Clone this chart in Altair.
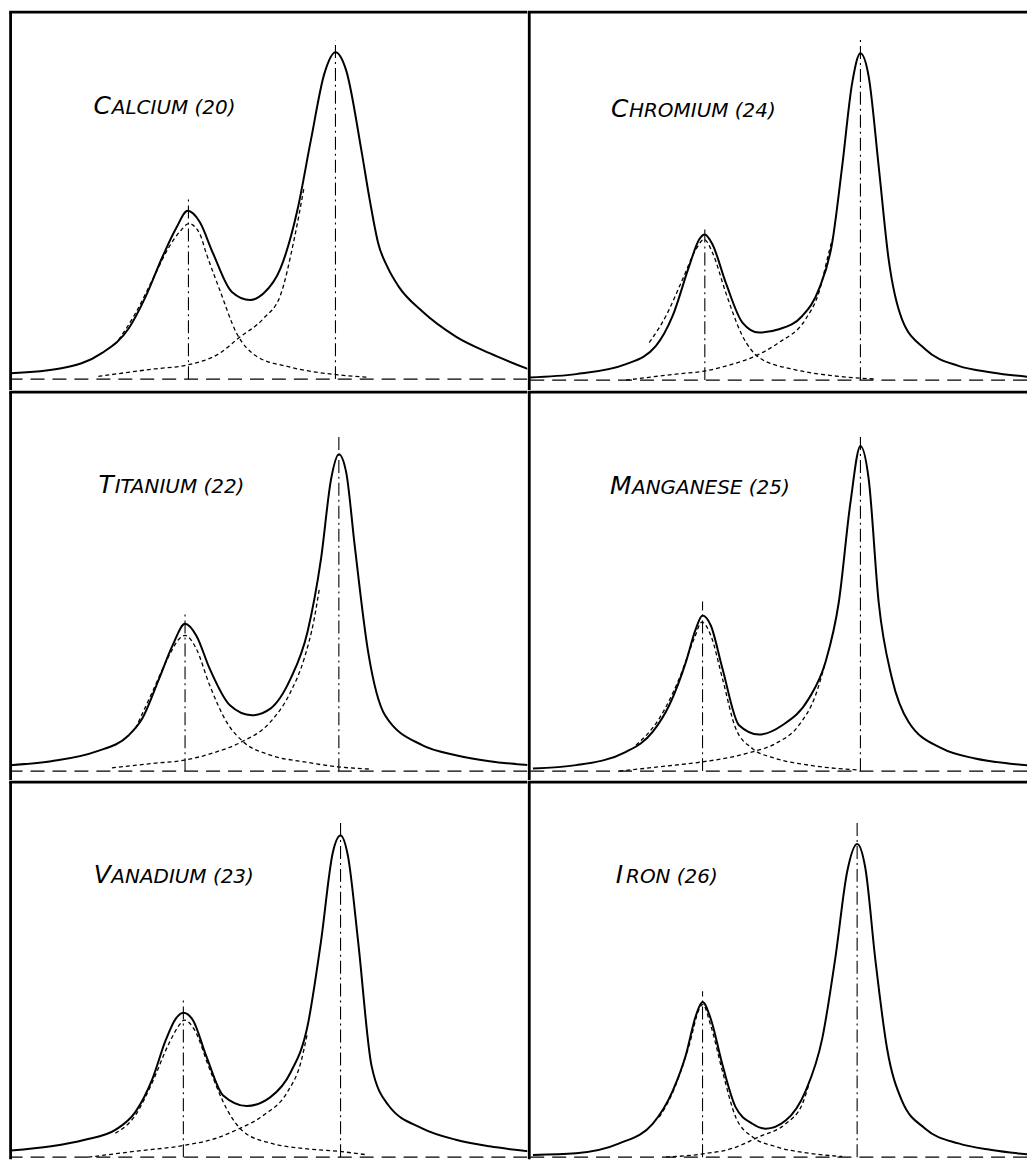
import altair as alt
import pandas as pd

# ---------------- data (x: position across panel, y: height above baseline) -------------
CA_TOTAL_X = [0.1, 50.9, 91.4, 118.5, 135.4, 152.3, 165.8, 177.6, 189.5, 203.0, 221.6, 240.2, 253.7, 270.6, 287.5, 301.0, 314.5, 325.7, 336.5, 351.7, 360.0, 368.6, 378.0, 388.9, 412.6, 446.4, 480.2, 519.1]
CA_TOTAL_Y = [6, 11, 26, 51, 82.7, 122.7, 151, 168.7, 157.7, 126, 87.7, 79.3, 86, 111, 169.3, 239.3, 306, 327.7, 309.3, 229.3, 180, 136, 112, 93, 68, 42.7, 26, 10]
CA_P1_X = [108.3, 125.2, 142.1, 159.0, 170.9, 178.6, 189.5, 196.2, 209.7, 226.6, 246.9, 277.4, 328.1, 356.8]
CA_P1_Y = [39.3, 66, 99.3, 132.7, 149.3, 156, 146, 126, 89.3, 46, 22.7, 12.7, 4.3, 2]
CA_P2_X = [88.0, 142.1, 177.6, 209.7, 228.3, 253.7, 270.6, 284.1, 294.3]
CA_P2_Y = [2.7, 10, 14.3, 26, 41, 61, 84.3, 139.3, 192.7]
CA_LINES_X = [178.3, 325.7]
CA_LINES_TOP = [180, 339.3]

CR_TOTAL_X = [0.3, 47, 97, 127, 143.7, 160.3, 170.3, 176, 183.7, 197, 213.7, 230.3, 250.3, 273.7, 290.3, 303.7, 313.7, 323.7, 332, 340.3, 350.3, 360.3, 373.7, 397, 430.3, 463.7, 505.3]
CR_TOTAL_Y = [2.7, 6, 16, 34.3, 64.3, 114.3, 141, 146, 136, 97.7, 57.7, 47.7, 51, 64.3, 91, 137.7, 214.3, 297.7, 327.7, 304.3, 214.3, 121, 61, 31, 14.3, 7.7, 2.7]
CR_P1_X = [120.3, 137, 153.7, 167, 175.3, 183.7, 197, 213.7, 230.3, 263.7, 297, 347]
CR_P1_Y = [37.7, 64.3, 101, 131, 141, 127.7, 87.7, 44.3, 22.7, 11, 5.3, 1]
CR_P2_X = [97, 147, 177, 203.7, 227, 250.3, 277, 290.3, 300.3, 303.7]
CR_P2_Y = [0, 6, 9.3, 16, 24.3, 37.7, 61, 87.7, 127.7, 141]
CR_LINES_X = [176, 332]
CR_LINES_TOP = [152.7, 344.3]

TI_TOTAL_X = [0.1, 40.7, 84.7, 118.5, 132, 148.9, 162.4, 174.9, 186.1, 199.6, 219.9, 241.9, 260.5, 280.7, 297.6, 311.2, 321.3, 329.1, 336.5, 345, 358.5, 375.4, 412.6, 446.4, 480.2, 519.1]
TI_TOTAL_Y = [6, 10, 19.3, 36, 52.7, 92.7, 126, 147.7, 136, 102.7, 66, 56, 62.7, 92.7, 139.3, 212.7, 292.7, 317.7, 299.3, 226, 119.3, 56, 26, 16, 10, 6]
TI_P1_X = [125.2, 142.1, 159.0, 169.2, 174.9, 186.1, 199.6, 216.5, 233.4, 260.5, 294.3, 328.1, 361.9]
TI_P1_Y = [42.7, 79.3, 116, 132.7, 136, 122.7, 86, 49.3, 29.3, 16, 9.3, 4.3, 2]
TI_P2_X = [101.6, 142.1, 174.2, 206.4, 231.7, 260.5, 280.7, 294.3, 304.4, 309.5]
TI_P2_Y = [3.3, 7.7, 11, 19.3, 29.3, 49.3, 79.3, 112.7, 152.7, 182.7]
TI_LINES_X = [174.9, 329.1]
TI_LINES_TOP = [159.3, 336]

MN_TOTAL_X = [3.7, 47, 97, 123.7, 140.3, 157, 167, 173.7, 182, 193.7, 210.3, 230.3, 253.7, 280.3, 297, 310.3, 322, 332, 340.3, 350.3, 363.7, 380.3, 413.7, 447, 480.3, 505.3]
MN_TOTAL_Y = [2.7, 6, 19.3, 39.3, 66, 109.3, 142.7, 156, 146, 102.7, 46, 36.7, 46, 72.7, 109.3, 169.3, 269.3, 326, 292.7, 169.3, 92.7, 49.3, 22.7, 12.7, 7.7, 5.3]
MN_P1_X = [107, 130.3, 150.3, 165.3, 173, 182, 193.7, 207, 223.7, 247, 280.3, 330.3]
MN_P1_Y = [26, 52.7, 92.7, 132.7, 149.3, 136, 92.7, 42.7, 22.7, 12.7, 6, 1]
MN_P2_X = [90.3, 130.3, 173.7, 203.7, 223.7, 247, 270.3, 287, 297]
MN_P2_Y = [0, 4.3, 9.3, 14.3, 19.3, 27.7, 46, 76, 109.3]
MN_LINES_X = [173.7, 332]
MN_LINES_TOP = [170, 336]

V_TOTAL_X = [0.1, 40.7, 74.5, 105, 125.2, 142.1, 155.7, 165.8, 173.2, 182.7, 196.2, 213.1, 236.8, 260.5, 280.7, 297.6, 311.2, 323, 330.8, 338.2, 348.4, 361.9, 378.8, 412.6, 446.4, 480.2, 519.1]
V_TOTAL_Y = [6.7, 11, 17.7, 27.7, 46, 79.3, 119.3, 141, 146.7, 139.3, 102.7, 62.7, 52, 61, 86, 132.7, 219.3, 309.3, 326.7, 306, 219.3, 92.7, 52.7, 29.3, 17.7, 11, 6]
V_P1_X = [105, 125.2, 142.1, 159, 169.2, 174.2, 184.4, 199.6, 216.5, 233.4, 260.5, 294.3, 328.1, 355.1]
V_P1_Y = [24.3, 42.7, 76, 116, 134.3, 139.3, 129.3, 89.3, 49.3, 26, 14.3, 8.7, 6, 2.7]
V_P2_X = [77.9, 125.2, 174.2, 206.4, 226.6, 253.7, 277.4, 290.9, 297.6]
V_P2_Y = [0, 6, 12, 19.3, 27.7, 42.7, 66, 96, 126]
V_LINES_X = [173.2, 330.8]
V_LINES_TOP = [162.7, 341]

FE_TOTAL_X = [3.7, 47, 90.3, 123.7, 143.7, 157, 167, 173.7, 182, 193.7, 207, 223.7, 237, 257, 277, 293.7, 307, 318.7, 328.7, 337, 347, 358.7, 373.7, 397, 430.3, 463.7, 505.3]
FE_TOTAL_Y = [2.3, 4, 14, 34, 67.3, 104, 144, 158, 140.7, 94, 50.7, 34, 29, 37.3, 67.3, 120.7, 204, 290.7, 319, 294, 200.7, 110.7, 57.3, 29, 14, 7.3, 2.3]
FE_P1_X = [130.3, 143.7, 160.3, 170.3, 173.7, 182, 193.7, 207, 223.7, 247, 280.3, 313.7]
FE_P1_Y = [40.7, 65.7, 114, 150.7, 155.7, 134, 87.3, 40.7, 20.7, 10.7, 4, 0.7]
FE_P2_X = [137, 173.7, 203.7, 230.3, 257, 273.7, 280.3]
FE_P2_Y = [0, 3.3, 9, 20.7, 34, 54, 74]
FE_LINES_X = [173.7, 328.7]
FE_LINES_TOP = [169, 344]

# labels: big initial, rest (small capitals), x of initial's right edge, x of rest, baseline height
LABEL_INITIAL = ["C", "C", "T", "M", "V", "I"]
LABEL_REST = ["ALCIUM (20)", "HROMIUM (24)", "ITANIUM (22)", "ANGANESE (25)", "ANADIUM (23)", "RON (26)"]
LABEL_X1 = [100.5, 99.5, 103.5, 102.5, 100.5, 94]
LABEL_X2 = [101.5, 100, 104.3, 103, 101, 97]
LABEL_Y = [266, 264, 279, 277.7, 279, 279]

FONT = "DejaVu Sans"
HALF_BORDER = 1.4


def panel(idx, tx, ty, p1x, p1y, p2x, p2y, lx, ltop, xdom, ydom, w, h):
    xs = alt.Scale(domain=xdom, nice=False, zero=False)
    ys = alt.Scale(domain=ydom, nice=False, zero=False)
    total = pd.DataFrame({"x": tx, "y": ty})
    c1 = pd.DataFrame({"x": p1x, "y": p1y})
    c2 = pd.DataFrame({"x": p2x, "y": p2y})
    vl = pd.DataFrame({"x": lx, "y0": [0] * len(lx), "y1": ltop})
    base = pd.DataFrame({"y": [0]})
    lab = pd.DataFrame({"a": [LABEL_INITIAL[idx]], "b": [LABEL_REST[idx]],
                        "x1": [LABEL_X1[idx]], "x2": [LABEL_X2[idx]], "y": [LABEL_Y[idx]]})
    one = pd.DataFrame({"k": [0]})

    X = lambda f: alt.X(f, scale=xs, axis=None)
    Y = lambda f: alt.Y(f, scale=ys, axis=None)

    baseline = alt.Chart(base).mark_rule(color="black", strokeWidth=1.3, strokeDash=[14, 8],
                                         clip=True).encode(y=Y("y:Q"))
    vlines = alt.Chart(vl).mark_rule(color="black", strokeWidth=1.1, strokeDash=[13, 4, 2, 4],
                                     clip=True).encode(x=X("x:Q"), y=Y("y0:Q"), y2="y1:Q")
    comp1 = alt.Chart(c1).mark_line(color="black", strokeWidth=1.3, strokeDash=[4, 3],
                                    interpolate="monotone", clip=True).encode(x=X("x:Q"), y=Y("y:Q"))
    comp2 = alt.Chart(c2).mark_line(color="black", strokeWidth=1.3, strokeDash=[4, 3],
                                    interpolate="monotone", clip=True).encode(x=X("x:Q"), y=Y("y:Q"))
    tot = alt.Chart(total).mark_line(color="black", strokeWidth=2.0, interpolate="monotone",
                                     clip=True).encode(x=X("x:Q"), y=Y("y:Q"))
    t1 = alt.Chart(lab).mark_text(font=FONT, fontStyle="italic", fontSize=25, align="right",
                                  baseline="alphabetic", color="black").encode(
        x=X("x1:Q"), y=Y("y:Q"), text="a:N")
    t2 = alt.Chart(lab).mark_text(font=FONT, fontStyle="italic", fontSize=20, align="left",
                                  baseline="alphabetic", color="black").encode(
        x=X("x2:Q"), y=Y("y:Q"), text="b:N")
    left_border = alt.Chart(one).mark_rect(color="black", strokeWidth=0).encode(
        x=alt.value(-HALF_BORDER), x2=alt.value(HALF_BORDER), y=alt.value(0), y2=alt.value(h))
    top_border = alt.Chart(one).mark_rect(color="black", strokeWidth=0).encode(
        x=alt.value(-HALF_BORDER), x2=alt.value(w), y=alt.value(-HALF_BORDER), y2=alt.value(HALF_BORDER))
    return alt.layer(baseline, vlines, comp1, comp2, tot, t1, t2, left_border, top_border).properties(
        width=w, height=h)


W1, W2 = 518, 499
H1, H2, H3 = 379, 389, 378

ca = panel(0, CA_TOTAL_X, CA_TOTAL_Y, CA_P1_X, CA_P1_Y, CA_P2_X, CA_P2_Y, CA_LINES_X, CA_LINES_TOP, [0, W1], [-11, 368], W1, H1)
cr = panel(1, CR_TOTAL_X, CR_TOTAL_Y, CR_P1_X, CR_P1_Y, CR_P2_X, CR_P2_Y, CR_LINES_X, CR_LINES_TOP, [0, W2], [-10, 369], W2, H1)
ti = panel(2, TI_TOTAL_X, TI_TOTAL_Y, TI_P1_X, TI_P1_Y, TI_P2_X, TI_P2_Y, TI_LINES_X, TI_LINES_TOP, [0, W1], [-9, 380], W1, H2)
mn = panel(3, MN_TOTAL_X, MN_TOTAL_Y, MN_P1_X, MN_P1_Y, MN_P2_X, MN_P2_Y, MN_LINES_X, MN_LINES_TOP, [0, W2], [-9, 380], W2, H2)
va = panel(4, V_TOTAL_X, V_TOTAL_Y, V_P1_X, V_P1_Y, V_P2_X, V_P2_Y, V_LINES_X, V_LINES_TOP, [0, W1], [-2, 381], W1, H3)
fe = panel(5, FE_TOTAL_X, FE_TOTAL_Y, FE_P1_X, FE_P1_Y, FE_P2_X, FE_P2_Y, FE_LINES_X, FE_LINES_TOP, [0, W2], [-2, 382], W2, H3)

chart = alt.vconcat(
    alt.hconcat(ca, cr, spacing=0),
    alt.hconcat(ti, mn, spacing=0),
    alt.hconcat(va, fe, spacing=0),
    spacing=0,
).properties(
    padding={"left": 0.6, "top": 0.6, "right": 0, "bottom": 0},
    background="white",
).configure_view(stroke=None).configure_concat(spacing=0)

chart.save("out.html", embed_options={"renderer": "svg", "actions": False})
